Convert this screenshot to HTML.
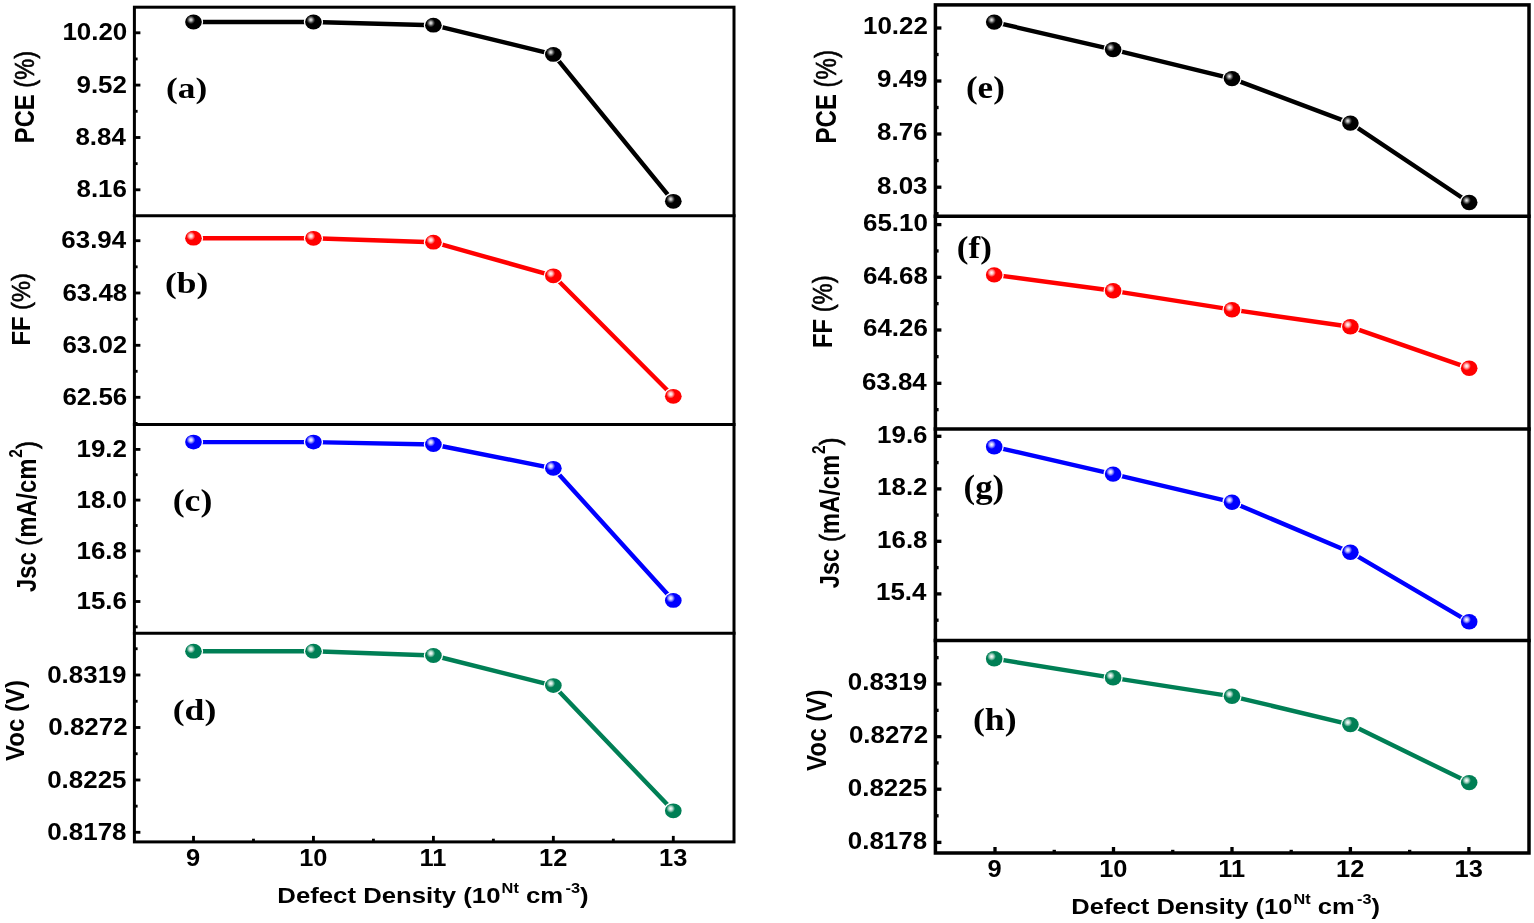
<!DOCTYPE html>
<html><head><meta charset="utf-8"><title>Defect density plots</title>
<style>
html,body{margin:0;padding:0;background:#fff;}
svg{display:block;}
.S{font-family:'Liberation Sans', Arial, sans-serif;font-weight:bold;fill:#000;}
.T{font-family:'Liberation Serif', 'Times New Roman', serif;font-weight:bold;fill:#000;}
</style></head><body>
<svg width="1534" height="923" viewBox="0 0 1534 923">
<defs><radialGradient id="hl0"><stop offset="0" stop-color="#fff" stop-opacity="0.95"/><stop offset="0.35" stop-color="#d0d0d0" stop-opacity="0.8"/><stop offset="1" stop-color="#808080" stop-opacity="0"/></radialGradient>
<radialGradient id="hl1"><stop offset="0" stop-color="#fff" stop-opacity="1"/><stop offset="0.4" stop-color="#fff" stop-opacity="0.75"/><stop offset="1" stop-color="#fff" stop-opacity="0"/></radialGradient></defs>
<rect width="1534" height="923" fill="#fff"/>
<line x1="134.4" y1="32.8" x2="140.4" y2="32.8" stroke="#000" stroke-width="2.85"/>
<line x1="134.4" y1="85.1" x2="140.4" y2="85.1" stroke="#000" stroke-width="2.85"/>
<line x1="134.4" y1="137.5" x2="140.4" y2="137.5" stroke="#000" stroke-width="2.85"/>
<line x1="134.4" y1="189.8" x2="140.4" y2="189.8" stroke="#000" stroke-width="2.85"/>
<line x1="134.4" y1="58.95" x2="137.6" y2="58.95" stroke="#000" stroke-width="2.85"/>
<line x1="134.4" y1="111.3" x2="137.6" y2="111.3" stroke="#000" stroke-width="2.85"/>
<line x1="134.4" y1="163.65" x2="137.6" y2="163.65" stroke="#000" stroke-width="2.85"/>
<line x1="134.4" y1="240.7" x2="140.4" y2="240.7" stroke="#000" stroke-width="2.85"/>
<line x1="134.4" y1="293" x2="140.4" y2="293" stroke="#000" stroke-width="2.85"/>
<line x1="134.4" y1="345.3" x2="140.4" y2="345.3" stroke="#000" stroke-width="2.85"/>
<line x1="134.4" y1="397.3" x2="140.4" y2="397.3" stroke="#000" stroke-width="2.85"/>
<line x1="134.4" y1="266.85" x2="137.6" y2="266.85" stroke="#000" stroke-width="2.85"/>
<line x1="134.4" y1="319.15" x2="137.6" y2="319.15" stroke="#000" stroke-width="2.85"/>
<line x1="134.4" y1="371.3" x2="137.6" y2="371.3" stroke="#000" stroke-width="2.85"/>
<line x1="134.4" y1="423.45" x2="137.6" y2="423.45" stroke="#000" stroke-width="2.85"/>
<line x1="134.4" y1="449.4" x2="140.4" y2="449.4" stroke="#000" stroke-width="2.85"/>
<line x1="134.4" y1="500.1" x2="140.4" y2="500.1" stroke="#000" stroke-width="2.85"/>
<line x1="134.4" y1="550.9" x2="140.4" y2="550.9" stroke="#000" stroke-width="2.85"/>
<line x1="134.4" y1="601.5" x2="140.4" y2="601.5" stroke="#000" stroke-width="2.85"/>
<line x1="134.4" y1="474.75" x2="137.6" y2="474.75" stroke="#000" stroke-width="2.85"/>
<line x1="134.4" y1="525.5" x2="137.6" y2="525.5" stroke="#000" stroke-width="2.85"/>
<line x1="134.4" y1="576.2" x2="137.6" y2="576.2" stroke="#000" stroke-width="2.85"/>
<line x1="134.4" y1="626.85" x2="137.6" y2="626.85" stroke="#000" stroke-width="2.85"/>
<line x1="134.4" y1="675" x2="140.4" y2="675" stroke="#000" stroke-width="2.85"/>
<line x1="134.4" y1="727.5" x2="140.4" y2="727.5" stroke="#000" stroke-width="2.85"/>
<line x1="134.4" y1="780" x2="140.4" y2="780" stroke="#000" stroke-width="2.85"/>
<line x1="134.4" y1="832.3" x2="140.4" y2="832.3" stroke="#000" stroke-width="2.85"/>
<line x1="134.4" y1="648.75" x2="137.6" y2="648.75" stroke="#000" stroke-width="2.85"/>
<line x1="134.4" y1="701.25" x2="137.6" y2="701.25" stroke="#000" stroke-width="2.85"/>
<line x1="134.4" y1="753.75" x2="137.6" y2="753.75" stroke="#000" stroke-width="2.85"/>
<line x1="134.4" y1="806.15" x2="137.6" y2="806.15" stroke="#000" stroke-width="2.85"/>
<line x1="193.5" y1="841.9" x2="193.5" y2="835.9" stroke="#000" stroke-width="2.85"/>
<line x1="313.45" y1="841.9" x2="313.45" y2="835.9" stroke="#000" stroke-width="2.85"/>
<line x1="433.4" y1="841.9" x2="433.4" y2="835.9" stroke="#000" stroke-width="2.85"/>
<line x1="553.35" y1="841.9" x2="553.35" y2="835.9" stroke="#000" stroke-width="2.85"/>
<line x1="673.3" y1="841.9" x2="673.3" y2="835.9" stroke="#000" stroke-width="2.85"/>
<line x1="253.47" y1="841.9" x2="253.47" y2="838.7" stroke="#000" stroke-width="2.85"/>
<line x1="373.42" y1="841.9" x2="373.42" y2="838.7" stroke="#000" stroke-width="2.85"/>
<line x1="493.38" y1="841.9" x2="493.38" y2="838.7" stroke="#000" stroke-width="2.85"/>
<line x1="613.33" y1="841.9" x2="613.33" y2="838.7" stroke="#000" stroke-width="2.85"/>
<rect x="134.4" y="7.2" width="599.6" height="834.7" fill="none" stroke="#000" stroke-width="3"/>
<line x1="132.9" y1="215.7" x2="735.5" y2="215.7" stroke="#000" stroke-width="3"/>
<line x1="132.9" y1="424.6" x2="735.5" y2="424.6" stroke="#000" stroke-width="3"/>
<line x1="132.9" y1="633.2" x2="735.5" y2="633.2" stroke="#000" stroke-width="3"/>
<polyline points="193.5,22 313.45,22 433.4,25.2 553.35,54.4 673.3,201.3" fill="none" stroke="#000000" stroke-width="4.4" stroke-linejoin="round"/>
<ellipse cx="193.5" cy="22" rx="8.35" ry="7.4" fill="#000000" stroke="#fff" stroke-width="2.6" paint-order="stroke"/>
<circle cx="190.9" cy="19.8" r="4.4" fill="url(#hl0)"/>
<ellipse cx="313.45" cy="22" rx="8.35" ry="7.4" fill="#000000" stroke="#fff" stroke-width="2.6" paint-order="stroke"/>
<circle cx="310.85" cy="19.8" r="4.4" fill="url(#hl0)"/>
<ellipse cx="433.4" cy="25.2" rx="8.35" ry="7.4" fill="#000000" stroke="#fff" stroke-width="2.6" paint-order="stroke"/>
<circle cx="430.8" cy="23" r="4.4" fill="url(#hl0)"/>
<ellipse cx="553.35" cy="54.4" rx="8.35" ry="7.4" fill="#000000" stroke="#fff" stroke-width="2.6" paint-order="stroke"/>
<circle cx="550.75" cy="52.2" r="4.4" fill="url(#hl0)"/>
<ellipse cx="673.3" cy="201.3" rx="8.35" ry="7.4" fill="#000000" stroke="#fff" stroke-width="2.6" paint-order="stroke"/>
<circle cx="670.7" cy="199.1" r="4.4" fill="url(#hl0)"/>
<polyline points="193.5,238.2 313.45,238.3 433.4,242.2 553.35,275.8 673.3,396.3" fill="none" stroke="#ff0000" stroke-width="4.4" stroke-linejoin="round"/>
<ellipse cx="193.5" cy="238.2" rx="8.35" ry="7.4" fill="#ff0000" stroke="#fff" stroke-width="2.6" paint-order="stroke"/>
<circle cx="190.9" cy="236" r="4.4" fill="url(#hl1)"/>
<ellipse cx="313.45" cy="238.3" rx="8.35" ry="7.4" fill="#ff0000" stroke="#fff" stroke-width="2.6" paint-order="stroke"/>
<circle cx="310.85" cy="236.1" r="4.4" fill="url(#hl1)"/>
<ellipse cx="433.4" cy="242.2" rx="8.35" ry="7.4" fill="#ff0000" stroke="#fff" stroke-width="2.6" paint-order="stroke"/>
<circle cx="430.8" cy="240" r="4.4" fill="url(#hl1)"/>
<ellipse cx="553.35" cy="275.8" rx="8.35" ry="7.4" fill="#ff0000" stroke="#fff" stroke-width="2.6" paint-order="stroke"/>
<circle cx="550.75" cy="273.6" r="4.4" fill="url(#hl1)"/>
<ellipse cx="673.3" cy="396.3" rx="8.35" ry="7.4" fill="#ff0000" stroke="#fff" stroke-width="2.6" paint-order="stroke"/>
<circle cx="670.7" cy="394.1" r="4.4" fill="url(#hl1)"/>
<polyline points="193.5,442.1 313.45,442.1 433.4,444.5 553.35,468.3 673.3,600.4" fill="none" stroke="#0000ff" stroke-width="4.4" stroke-linejoin="round"/>
<ellipse cx="193.5" cy="442.1" rx="8.35" ry="7.4" fill="#0000ff" stroke="#fff" stroke-width="2.6" paint-order="stroke"/>
<circle cx="190.9" cy="439.9" r="4.4" fill="url(#hl1)"/>
<ellipse cx="313.45" cy="442.1" rx="8.35" ry="7.4" fill="#0000ff" stroke="#fff" stroke-width="2.6" paint-order="stroke"/>
<circle cx="310.85" cy="439.9" r="4.4" fill="url(#hl1)"/>
<ellipse cx="433.4" cy="444.5" rx="8.35" ry="7.4" fill="#0000ff" stroke="#fff" stroke-width="2.6" paint-order="stroke"/>
<circle cx="430.8" cy="442.3" r="4.4" fill="url(#hl1)"/>
<ellipse cx="553.35" cy="468.3" rx="8.35" ry="7.4" fill="#0000ff" stroke="#fff" stroke-width="2.6" paint-order="stroke"/>
<circle cx="550.75" cy="466.1" r="4.4" fill="url(#hl1)"/>
<ellipse cx="673.3" cy="600.4" rx="8.35" ry="7.4" fill="#0000ff" stroke="#fff" stroke-width="2.6" paint-order="stroke"/>
<circle cx="670.7" cy="598.2" r="4.4" fill="url(#hl1)"/>
<polyline points="193.5,651.2 313.45,651.2 433.4,655.5 553.35,685.6 673.3,810.8" fill="none" stroke="#007f55" stroke-width="4.4" stroke-linejoin="round"/>
<ellipse cx="193.5" cy="651.2" rx="8.35" ry="7.4" fill="#007f55" stroke="#fff" stroke-width="2.6" paint-order="stroke"/>
<circle cx="190.9" cy="649" r="4.4" fill="url(#hl1)"/>
<ellipse cx="313.45" cy="651.2" rx="8.35" ry="7.4" fill="#007f55" stroke="#fff" stroke-width="2.6" paint-order="stroke"/>
<circle cx="310.85" cy="649" r="4.4" fill="url(#hl1)"/>
<ellipse cx="433.4" cy="655.5" rx="8.35" ry="7.4" fill="#007f55" stroke="#fff" stroke-width="2.6" paint-order="stroke"/>
<circle cx="430.8" cy="653.3" r="4.4" fill="url(#hl1)"/>
<ellipse cx="553.35" cy="685.6" rx="8.35" ry="7.4" fill="#007f55" stroke="#fff" stroke-width="2.6" paint-order="stroke"/>
<circle cx="550.75" cy="683.4" r="4.4" fill="url(#hl1)"/>
<ellipse cx="673.3" cy="810.8" rx="8.35" ry="7.4" fill="#007f55" stroke="#fff" stroke-width="2.6" paint-order="stroke"/>
<circle cx="670.7" cy="808.6" r="4.4" fill="url(#hl1)"/>
<line x1="935.4" y1="28" x2="941.4" y2="28" stroke="#000" stroke-width="3.32"/>
<line x1="935.4" y1="81" x2="941.4" y2="81" stroke="#000" stroke-width="3.32"/>
<line x1="935.4" y1="134" x2="941.4" y2="134" stroke="#000" stroke-width="3.32"/>
<line x1="935.4" y1="187.2" x2="941.4" y2="187.2" stroke="#000" stroke-width="3.32"/>
<line x1="935.4" y1="54.5" x2="938.6" y2="54.5" stroke="#000" stroke-width="3.32"/>
<line x1="935.4" y1="107.5" x2="938.6" y2="107.5" stroke="#000" stroke-width="3.32"/>
<line x1="935.4" y1="160.6" x2="938.6" y2="160.6" stroke="#000" stroke-width="3.32"/>
<line x1="935.4" y1="213.7" x2="938.6" y2="213.7" stroke="#000" stroke-width="3.32"/>
<line x1="935.4" y1="224.6" x2="941.4" y2="224.6" stroke="#000" stroke-width="3.32"/>
<line x1="935.4" y1="277.3" x2="941.4" y2="277.3" stroke="#000" stroke-width="3.32"/>
<line x1="935.4" y1="330" x2="941.4" y2="330" stroke="#000" stroke-width="3.32"/>
<line x1="935.4" y1="383.3" x2="941.4" y2="383.3" stroke="#000" stroke-width="3.32"/>
<line x1="935.4" y1="250.95" x2="938.6" y2="250.95" stroke="#000" stroke-width="3.32"/>
<line x1="935.4" y1="303.65" x2="938.6" y2="303.65" stroke="#000" stroke-width="3.32"/>
<line x1="935.4" y1="356.65" x2="938.6" y2="356.65" stroke="#000" stroke-width="3.32"/>
<line x1="935.4" y1="409.65" x2="938.6" y2="409.65" stroke="#000" stroke-width="3.32"/>
<line x1="935.4" y1="436.3" x2="941.4" y2="436.3" stroke="#000" stroke-width="3.32"/>
<line x1="935.4" y1="488.9" x2="941.4" y2="488.9" stroke="#000" stroke-width="3.32"/>
<line x1="935.4" y1="541.3" x2="941.4" y2="541.3" stroke="#000" stroke-width="3.32"/>
<line x1="935.4" y1="593.9" x2="941.4" y2="593.9" stroke="#000" stroke-width="3.32"/>
<line x1="935.4" y1="462.6" x2="938.6" y2="462.6" stroke="#000" stroke-width="3.32"/>
<line x1="935.4" y1="515.1" x2="938.6" y2="515.1" stroke="#000" stroke-width="3.32"/>
<line x1="935.4" y1="567.6" x2="938.6" y2="567.6" stroke="#000" stroke-width="3.32"/>
<line x1="935.4" y1="620.2" x2="938.6" y2="620.2" stroke="#000" stroke-width="3.32"/>
<line x1="935.4" y1="684" x2="941.4" y2="684" stroke="#000" stroke-width="3.32"/>
<line x1="935.4" y1="736.7" x2="941.4" y2="736.7" stroke="#000" stroke-width="3.32"/>
<line x1="935.4" y1="789.2" x2="941.4" y2="789.2" stroke="#000" stroke-width="3.32"/>
<line x1="935.4" y1="842.4" x2="941.4" y2="842.4" stroke="#000" stroke-width="3.32"/>
<line x1="935.4" y1="657.65" x2="938.6" y2="657.65" stroke="#000" stroke-width="3.32"/>
<line x1="935.4" y1="710.35" x2="938.6" y2="710.35" stroke="#000" stroke-width="3.32"/>
<line x1="935.4" y1="762.95" x2="938.6" y2="762.95" stroke="#000" stroke-width="3.32"/>
<line x1="935.4" y1="815.8" x2="938.6" y2="815.8" stroke="#000" stroke-width="3.32"/>
<line x1="995" y1="853" x2="995" y2="847" stroke="#000" stroke-width="3.32"/>
<line x1="1113.5" y1="853" x2="1113.5" y2="847" stroke="#000" stroke-width="3.32"/>
<line x1="1232" y1="853" x2="1232" y2="847" stroke="#000" stroke-width="3.32"/>
<line x1="1350.4" y1="853" x2="1350.4" y2="847" stroke="#000" stroke-width="3.32"/>
<line x1="1468.9" y1="853" x2="1468.9" y2="847" stroke="#000" stroke-width="3.32"/>
<line x1="1054.25" y1="853" x2="1054.25" y2="849.8" stroke="#000" stroke-width="3.32"/>
<line x1="1172.75" y1="853" x2="1172.75" y2="849.8" stroke="#000" stroke-width="3.32"/>
<line x1="1291.2" y1="853" x2="1291.2" y2="849.8" stroke="#000" stroke-width="3.32"/>
<line x1="1409.65" y1="853" x2="1409.65" y2="849.8" stroke="#000" stroke-width="3.32"/>
<rect x="935.4" y="4.9" width="593.6" height="848.1" fill="none" stroke="#000" stroke-width="3.5"/>
<line x1="933.65" y1="216.3" x2="1530.75" y2="216.3" stroke="#000" stroke-width="3.5"/>
<line x1="933.65" y1="429.1" x2="1530.75" y2="429.1" stroke="#000" stroke-width="3.5"/>
<line x1="933.65" y1="640.6" x2="1530.75" y2="640.6" stroke="#000" stroke-width="3.5"/>
<polyline points="994.2,22.1 1113.1,49.6 1232,78.6 1350.4,123.1 1469.2,202.5" fill="none" stroke="#000000" stroke-width="4.4" stroke-linejoin="round"/>
<ellipse cx="994.2" cy="22.1" rx="8.3" ry="7.7" fill="#000000" stroke="#fff" stroke-width="2.6" paint-order="stroke"/>
<circle cx="991.6" cy="19.9" r="4.4" fill="url(#hl0)"/>
<ellipse cx="1113.1" cy="49.6" rx="8.3" ry="7.7" fill="#000000" stroke="#fff" stroke-width="2.6" paint-order="stroke"/>
<circle cx="1110.5" cy="47.4" r="4.4" fill="url(#hl0)"/>
<ellipse cx="1232" cy="78.6" rx="8.3" ry="7.7" fill="#000000" stroke="#fff" stroke-width="2.6" paint-order="stroke"/>
<circle cx="1229.4" cy="76.4" r="4.4" fill="url(#hl0)"/>
<ellipse cx="1350.4" cy="123.1" rx="8.3" ry="7.7" fill="#000000" stroke="#fff" stroke-width="2.6" paint-order="stroke"/>
<circle cx="1347.8" cy="120.9" r="4.4" fill="url(#hl0)"/>
<ellipse cx="1469.2" cy="202.5" rx="8.3" ry="7.7" fill="#000000" stroke="#fff" stroke-width="2.6" paint-order="stroke"/>
<circle cx="1466.6" cy="200.3" r="4.4" fill="url(#hl0)"/>
<polyline points="994.2,274.9 1113.1,290.8 1232,309.7 1350.4,326.8 1469.2,368.2" fill="none" stroke="#ff0000" stroke-width="4.4" stroke-linejoin="round"/>
<ellipse cx="994.2" cy="274.9" rx="8.3" ry="7.7" fill="#ff0000" stroke="#fff" stroke-width="2.6" paint-order="stroke"/>
<circle cx="991.6" cy="272.7" r="4.4" fill="url(#hl1)"/>
<ellipse cx="1113.1" cy="290.8" rx="8.3" ry="7.7" fill="#ff0000" stroke="#fff" stroke-width="2.6" paint-order="stroke"/>
<circle cx="1110.5" cy="288.6" r="4.4" fill="url(#hl1)"/>
<ellipse cx="1232" cy="309.7" rx="8.3" ry="7.7" fill="#ff0000" stroke="#fff" stroke-width="2.6" paint-order="stroke"/>
<circle cx="1229.4" cy="307.5" r="4.4" fill="url(#hl1)"/>
<ellipse cx="1350.4" cy="326.8" rx="8.3" ry="7.7" fill="#ff0000" stroke="#fff" stroke-width="2.6" paint-order="stroke"/>
<circle cx="1347.8" cy="324.6" r="4.4" fill="url(#hl1)"/>
<ellipse cx="1469.2" cy="368.2" rx="8.3" ry="7.7" fill="#ff0000" stroke="#fff" stroke-width="2.6" paint-order="stroke"/>
<circle cx="1466.6" cy="366" r="4.4" fill="url(#hl1)"/>
<polyline points="994.2,446.8 1113.1,474.1 1232,502.2 1350.4,552.2 1469.2,621.8" fill="none" stroke="#0000ff" stroke-width="4.4" stroke-linejoin="round"/>
<ellipse cx="994.2" cy="446.8" rx="8.3" ry="7.7" fill="#0000ff" stroke="#fff" stroke-width="2.6" paint-order="stroke"/>
<circle cx="991.6" cy="444.6" r="4.4" fill="url(#hl1)"/>
<ellipse cx="1113.1" cy="474.1" rx="8.3" ry="7.7" fill="#0000ff" stroke="#fff" stroke-width="2.6" paint-order="stroke"/>
<circle cx="1110.5" cy="471.9" r="4.4" fill="url(#hl1)"/>
<ellipse cx="1232" cy="502.2" rx="8.3" ry="7.7" fill="#0000ff" stroke="#fff" stroke-width="2.6" paint-order="stroke"/>
<circle cx="1229.4" cy="500" r="4.4" fill="url(#hl1)"/>
<ellipse cx="1350.4" cy="552.2" rx="8.3" ry="7.7" fill="#0000ff" stroke="#fff" stroke-width="2.6" paint-order="stroke"/>
<circle cx="1347.8" cy="550" r="4.4" fill="url(#hl1)"/>
<ellipse cx="1469.2" cy="621.8" rx="8.3" ry="7.7" fill="#0000ff" stroke="#fff" stroke-width="2.6" paint-order="stroke"/>
<circle cx="1466.6" cy="619.6" r="4.4" fill="url(#hl1)"/>
<polyline points="994.2,658.7 1113.1,677.8 1232,696.3 1350.4,724.6 1469.2,782.6" fill="none" stroke="#007f55" stroke-width="4.4" stroke-linejoin="round"/>
<ellipse cx="994.2" cy="658.7" rx="8.3" ry="7.7" fill="#007f55" stroke="#fff" stroke-width="2.6" paint-order="stroke"/>
<circle cx="991.6" cy="656.5" r="4.4" fill="url(#hl1)"/>
<ellipse cx="1113.1" cy="677.8" rx="8.3" ry="7.7" fill="#007f55" stroke="#fff" stroke-width="2.6" paint-order="stroke"/>
<circle cx="1110.5" cy="675.6" r="4.4" fill="url(#hl1)"/>
<ellipse cx="1232" cy="696.3" rx="8.3" ry="7.7" fill="#007f55" stroke="#fff" stroke-width="2.6" paint-order="stroke"/>
<circle cx="1229.4" cy="694.1" r="4.4" fill="url(#hl1)"/>
<ellipse cx="1350.4" cy="724.6" rx="8.3" ry="7.7" fill="#007f55" stroke="#fff" stroke-width="2.6" paint-order="stroke"/>
<circle cx="1347.8" cy="722.4" r="4.4" fill="url(#hl1)"/>
<ellipse cx="1469.2" cy="782.6" rx="8.3" ry="7.7" fill="#007f55" stroke="#fff" stroke-width="2.6" paint-order="stroke"/>
<circle cx="1466.6" cy="780.4" r="4.4" fill="url(#hl1)"/>
<text class="S" font-size="24" transform="translate(62.39 40.4) scale(1.08 0.99)">10.20</text>
<text class="S" font-size="24" transform="translate(76.49 92.7) scale(1.08 0.99)">9.52</text>
<text class="S" font-size="24" transform="translate(75.41 145.1) scale(1.08 0.99)">8.84</text>
<text class="S" font-size="24" transform="translate(76.49 197.4) scale(1.08 0.99)">8.16</text>
<text class="S" font-size="24" transform="translate(61.3 248.3) scale(1.08 0.99)">63.94</text>
<text class="S" font-size="24" transform="translate(62.39 300.6) scale(1.08 0.99)">63.48</text>
<text class="S" font-size="24" transform="translate(62.39 352.9) scale(1.08 0.99)">63.02</text>
<text class="S" font-size="24" transform="translate(62.39 404.9) scale(1.08 0.99)">62.56</text>
<text class="S" font-size="24" transform="translate(76.49 457) scale(1.08 0.99)">19.2</text>
<text class="S" font-size="24" transform="translate(76.49 507.7) scale(1.08 0.99)">18.0</text>
<text class="S" font-size="24" transform="translate(76.49 558.5) scale(1.08 0.99)">16.8</text>
<text class="S" font-size="24" transform="translate(76.49 609.1) scale(1.08 0.99)">15.6</text>
<text class="S" font-size="24" transform="translate(47.2 682.6) scale(1.08 0.99)">0.8319</text>
<text class="S" font-size="24" transform="translate(48.28 735.1) scale(1.08 0.99)">0.8272</text>
<text class="S" font-size="24" transform="translate(47.2 787.6) scale(1.08 0.99)">0.8225</text>
<text class="S" font-size="24" transform="translate(47.2 839.9) scale(1.08 0.99)">0.8178</text>
<text class="S" font-size="24" transform="translate(862.99 34.4) scale(1.08 0.99)">10.22</text>
<text class="S" font-size="24" transform="translate(877.09 87.4) scale(1.08 0.99)">9.49</text>
<text class="S" font-size="24" transform="translate(877.09 140.4) scale(1.08 0.99)">8.76</text>
<text class="S" font-size="24" transform="translate(877.09 193.6) scale(1.08 0.99)">8.03</text>
<text class="S" font-size="24" transform="translate(862.99 231) scale(1.08 0.99)">65.10</text>
<text class="S" font-size="24" transform="translate(862.99 283.7) scale(1.08 0.99)">64.68</text>
<text class="S" font-size="24" transform="translate(862.99 336.4) scale(1.08 0.99)">64.26</text>
<text class="S" font-size="24" transform="translate(861.9 389.7) scale(1.08 0.99)">63.84</text>
<text class="S" font-size="24" transform="translate(877.09 442.7) scale(1.08 0.99)">19.6</text>
<text class="S" font-size="24" transform="translate(877.09 495.3) scale(1.08 0.99)">18.2</text>
<text class="S" font-size="24" transform="translate(877.09 547.7) scale(1.08 0.99)">16.8</text>
<text class="S" font-size="24" transform="translate(876 600.3) scale(1.08 0.99)">15.4</text>
<text class="S" font-size="24" transform="translate(847.79 690.4) scale(1.08 0.99)">0.8319</text>
<text class="S" font-size="24" transform="translate(848.88 743.1) scale(1.08 0.99)">0.8272</text>
<text class="S" font-size="24" transform="translate(847.79 795.6) scale(1.08 0.99)">0.8225</text>
<text class="S" font-size="24" transform="translate(847.79 848.8) scale(1.08 0.99)">0.8178</text>
<text class="S" font-size="24" transform="translate(186.08 865.8) scale(1.06 0.96)">9</text>
<text class="S" font-size="24" transform="translate(299.14 865.8) scale(1.06 0.96)">10</text>
<text class="S" font-size="24" transform="translate(419.62 865.8) scale(1.06 0.96)">11</text>
<text class="S" font-size="24" transform="translate(539.04 865.8) scale(1.06 0.96)">12</text>
<text class="S" font-size="24" transform="translate(658.99 865.8) scale(1.06 0.96)">13</text>
<text class="T" font-size="30" transform="translate(165.97 98.15) scale(1.18 1.01)">(a)</text>
<text class="T" font-size="30" transform="translate(164.92 292.67) scale(1.18 0.99)">(b)</text>
<text class="T" font-size="30" transform="translate(172.71 510.98) scale(1.19 1.02)">(c)</text>
<text class="T" font-size="30" transform="translate(172.71 719.94) scale(1.19 0.99)">(d)</text>
<text class="S" font-size="24" transform="translate(987.58 877.3) scale(1.06 0.96)">9</text>
<text class="S" font-size="24" transform="translate(1099.19 877.3) scale(1.06 0.96)">10</text>
<text class="S" font-size="24" transform="translate(1218.22 877.3) scale(1.06 0.96)">11</text>
<text class="S" font-size="24" transform="translate(1336.09 877.3) scale(1.06 0.96)">12</text>
<text class="S" font-size="24" transform="translate(1454.59 877.3) scale(1.06 0.96)">13</text>
<text class="T" font-size="30" transform="translate(965.93 97.72) scale(1.17 1.08)">(e)</text>
<text class="T" font-size="30" transform="translate(956.83 257.64) scale(1.17 1.06)">(f)</text>
<text class="T" font-size="30" transform="translate(963.59 498.1) scale(1.16 1.1)">(g)</text>
<text class="T" font-size="30" transform="translate(972.91 730.01) scale(1.19 1.05)">(h)</text>
<text class="S" font-size="24" transform="translate(33.55 143.18) rotate(-90) scale(0.99 1.15)">PCE <tspan font-weight="normal" stroke="#000" stroke-width="0.5">(%)</tspan></text>
<text class="S" font-size="24" transform="translate(30.25 345.58) rotate(-90) scale(0.99 1.11)">FF <tspan font-weight="normal" stroke="#000" stroke-width="0.5">(%)</tspan></text>
<text class="S" font-size="24" transform="translate(35.6 592) rotate(-90) scale(0.99 1.16)">Jsc <tspan font-weight="normal" stroke="#000" stroke-width="0.6">(</tspan>mA/cm<tspan font-size="15.5" dy="-12" dx="1">2</tspan><tspan dy="12" font-weight="normal" stroke="#000" stroke-width="0.6">)</tspan></text>
<text class="S" font-size="24" transform="translate(23.74 760.9) rotate(-90) scale(1 1.09)">Voc (V)</text>
<text class="S" font-size="24" transform="translate(835.82 143.4) rotate(-90) scale(1 1.2)">PCE <tspan font-weight="normal" stroke="#000" stroke-width="0.5">(%)</tspan></text>
<text class="S" font-size="24" transform="translate(832.07 347.98) rotate(-90) scale(0.99 1.19)">FF <tspan font-weight="normal" stroke="#000" stroke-width="0.5">(%)</tspan></text>
<text class="S" font-size="24" transform="translate(838.59 588.3) rotate(-90) scale(0.99 1.16)">Jsc <tspan font-weight="normal" stroke="#000" stroke-width="0.6">(</tspan>mA/cm<tspan font-size="15.5" dy="-12" dx="1">2</tspan><tspan dy="12" font-weight="normal" stroke="#000" stroke-width="0.6">)</tspan></text>
<text class="S" font-size="24" transform="translate(825.9 771) rotate(-90) scale(1.01 1.14)">Voc (V)</text>
<text class="S" font-size="22" transform="translate(277.33 902.5) scale(1.17 1)">Defect Density (10<tspan font-size="14" dy="-10" dx="1">Nt</tspan><tspan dy="10"> cm</tspan><tspan font-size="14" dy="-10" dx="2">-3</tspan><tspan dy="10">)</tspan></text>
<text class="S" font-size="22" transform="translate(1071.34 914.32) scale(1.16 1.02)">Defect Density (10<tspan font-size="14" dy="-10" dx="1">Nt</tspan><tspan dy="10"> cm</tspan><tspan font-size="14" dy="-10" dx="2">-3</tspan><tspan dy="10">)</tspan></text>
</svg>
</body></html>
